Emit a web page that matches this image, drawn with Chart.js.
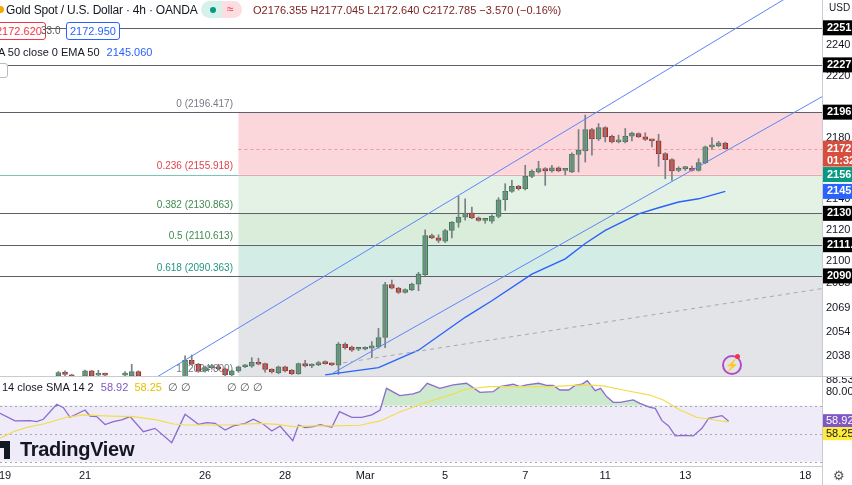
<!DOCTYPE html>
<html><head><meta charset="utf-8">
<script src="https://cdn.jsdelivr.net/npm/chart.js@4/dist/chart.umd.min.js"></script>
<style>
body{margin:0;background:#fff;width:852px;height:485px;overflow:hidden;position:relative;font-family:"Liberation Sans",Arial,sans-serif}
canvas{position:absolute;left:0}
.t{position:absolute;white-space:nowrap;font-size:11px;color:#131722;z-index:5}
</style></head><body>
<canvas id="main" width="852" height="376" style="top:0px"></canvas>
<canvas id="rsi" width="852" height="109" style="top:376px"></canvas>

<div class="t" style="left:-3px;top:6px;width:7px;height:7px;border-radius:4px;background:#f7a600"></div>
<div class="t" style="left:6px;top:3px;font-size:12px;letter-spacing:-0.2px">Gold Spot / U.S. Dollar · 4h · OANDA</div>
<div class="t" style="left:201px;top:1px;width:41px;height:17px;border-radius:9px;background:linear-gradient(90deg,#d5f1ea 50%,#fbdde2 50%)"></div>
<div class="t" style="left:210px;top:7px;width:6px;height:6px;border-radius:3px;background:#089981"></div>
<div class="t" style="left:227px;top:2px;color:#f23645;font-size:12px">≈</div>
<div class="t" style="left:253px;top:4px;color:#7a1e1e">O2176.355 H2177.045 L2172.640 C2172.785 −3.570 (−0.16%)</div>
<div class="t" style="left:-8px;top:22px;border:1px solid #f23645;border-radius:3px;background:#fff;color:#f23645;padding:2px 3px">2172.620</div>
<div class="t" style="left:41px;top:25px;color:#555;font-size:10px">33.0</div>
<div class="t" style="left:66px;top:22px;border:1px solid #2962ff;border-radius:3px;background:#fff;color:#2962ff;padding:2px 3px">2172.950</div>
<div class="t" style="left:-2px;top:46px">A 50 close 0 EMA 50 <span style="color:#2962ff;margin-left:4px">2145.060</span></div>
<div class="t" style="left:-6px;top:63px;width:12px;height:13px;border:1px solid #bbb;border-radius:3px;background:#fff"></div>
<div class="t" style="left:2px;top:381px">14 close SMA 14 2 <span style="color:#7e57c2;margin-left:4px">58.92</span> <span style="color:#e3c200;margin-left:3px">58.25</span> <span style="color:#555;margin-left:3px">∅ ∅</span><span style="color:#555;margin-left:36px">∅ ∅ ∅</span></div>
<div class="t" style="left:-2px;top:441px;width:12px;height:7px;background:#131722"></div>
<div class="t" style="left:4px;top:441px;width:6px;height:18px;background:#131722"></div>
<div class="t" style="left:20px;top:438px;font-size:20px;font-weight:bold;letter-spacing:-0.3px">TradingView</div>
<div class="t" style="left:722px;top:355px;width:16px;height:16px;border:2px solid #b04cc8;border-radius:10px;color:#b04cc8;font-size:11px;text-align:center;line-height:16px">⚡</div>
<div class="t" style="left:735px;top:354px;width:5px;height:5px;border-radius:3px;background:#f23645"></div>
<div class="t" style="left:829px;top:2px;font-size:10px">USD</div>
<div class="t" style="left:833px;top:468px;font-size:13px;color:#555">⚙</div>

<script>
// ---------- DATA ----------
const candleIdx=[8,9,10,12,13,14,15,18,19,20,27,28,29,30,31,32,33,34,35,36,37,38,39,40,41,42,43,44,45,46,47,48,49,50,
51,52,53,54,55,56,57,58,59,60,61,62,63,64,65,66,67,68,69,70,71,72,73,74,75,76,77,78,79,80,81,82,83,84,85,86,87,88,89,90,
91,92,93,94,95,96,97,98,99,100,101,102,103,104,105,106,107,108];
const opens=[2025.6,2028.2,2026.3,2025.6,2028.9,2026.2,2027.1,2026.2,2025.6,2028.4,2025.0,2035.8,2033.2,2028.9,2031.0,2031.0,2030.2,2026.3,2028.9,2031.6,2031.9,2034.3,2033.6,2029.9,2027.8,2031.5,2029.3,2027.1,2033.6,2032.1,2032.8,2034.3,2033.6,2032.6,
2046.2,2044.4,2042.9,2042.9,2043.6,2044.5,2050.5,2084.7,2082.5,2079.7,2081.3,2085.1,2091.2,2116.5,2115.0,2112.8,2119.8,2125.0,2128.4,2131.0,2128.0,2126.3,2125.8,2128.9,2139.7,2145.1,2148.4,2146.8,2154.8,2157.7,2159.8,2158.3,2160.3,2158.7,2157.7,2169.1,2171.3,2185.1,2179.1,2186.4,
2180.8,2177.2,2177.3,2180.8,2182.5,2180.4,2178.2,2177.8,2169.6,2165.7,2158.7,2159.8,2159.8,2158.7,2163.7,2173.9,2174.5,2176.4];
const highs=[2028.5,2029,2026.8,2029.5,2029.3,2029.3,2027.5,2028.4,2033.2,2029,2038.6,2039.2,2033.8,2032,2033.2,2033.2,2030.8,2029.5,2032,2033.2,2037.5,2037.1,2034,2030.3,2032,2032,2029.8,2034,2035.8,2033.5,2035,2035.4,2034,2047.3,
2047,2045,2043.5,2044.5,2047.9,2056.4,2086.2,2087.7,2083,2082,2085.8,2092.7,2120.2,2117.5,2117,2120.5,2125.5,2141.9,2140.3,2134.9,2128.5,2127,2130,2141,2150.1,2152.2,2149,2162.0,2159,2164.6,2160.5,2162,2161,2160,2170,2185.1,2194.5,2186,2189.0,2187,
2181.5,2181.5,2185.8,2183.5,2183,2183.0,2178.8,2182.1,2170.2,2166.3,2161,2161.3,2161.5,2166.3,2174.5,2179.9,2177.5,2177.0];
const lows=[2024,2025,2023.5,2024.5,2024.5,2025,2025,2025.5,2024.5,2024.5,2024,2032.5,2028,2028,2030,2029.5,2025.5,2025.5,2028,2031,2031.2,2032.8,2028,2027.5,2027,2028.3,2026.5,2026.7,2031.5,2031,2032.3,2033.2,2032.3,2026.7,
2043,2041.5,2042,2042.5,2037.5,2043.5,2044,2082,2079,2079.2,2080.8,2080.8,2090.5,2114.5,2112,2112,2115.0,2121.9,2126.5,2127.5,2125.8,2124.5,2124.5,2128,2132.8,2144.5,2146,2146,2154,2157,2149.0,2157.5,2157.8,2155.8,2157.2,2157.7,2164.1,2168.5,2178,2177.1,
2176.5,2176.5,2176.5,2177.8,2180,2178,2173.9,2161.3,2153.3,2152.2,2157.8,2158.7,2158.2,2158.2,2163,2172.2,2174,2172.6];
const closes=[2027.8,2026.7,2024.5,2028.9,2025.6,2026.9,2026.2,2026.9,2028.4,2025.6,2035.8,2033.2,2028.9,2031.0,2031.2,2030.2,2026.3,2028.9,2031.5,2031.8,2034.5,2033.2,2029.9,2028.2,2031.5,2028.9,2027.1,2033.6,2032.1,2032.8,2034.3,2033.6,2032.8,2046.2,
2044.0,2042.3,2043.0,2044.0,2045.1,2050.5,2084.7,2082.5,2079.7,2081.5,2085.1,2091.6,2116.5,2115.0,2113.3,2119.8,2125.0,2128.4,2131.0,2128.0,2126.3,2126.4,2128.9,2139.7,2145.1,2148.4,2146.8,2154.8,2158.1,2159.8,2158.3,2160.3,2158.3,2158.9,2169.1,2171.7,2185.1,2179.1,2186.4,2180.4,
2177.1,2177.3,2180.8,2182.8,2180.4,2178.7,2177.8,2169.6,2165.7,2158.3,2159.8,2159.9,2158.7,2163.7,2173.9,2174.5,2176.5,2172.8];
const emaIdx=[48,56,62,69,73,79,84,87,90,95,98,101,104,108];
const emaVals=[2026.3,2031.0,2042.3,2063.6,2074.3,2091.6,2101.4,2111.4,2119.8,2130.6,2134.5,2138.2,2140.3,2145.1];
const upperIdx=[22.8,125], upperVals=[2025.0,2290.7];
const lowerIdx=[48.7,125], lowerVals=[2026.3,2212.5];
const dashIdx=[50.7,122.5], dashVals=[2034.1,2082.2];
const fibLevels=['0','0.236','0.382','0.5','0.618','1'];
const fibPrices=[2196.417,2155.918,2130.863,2110.613,2090.363,2024.800];
const fibStartIdx=35;
const hLinePrices=[2251,2227,2196.4,2130.9,2110.6,2090.4];
const lastPrice=2172.785;
const yTickVals=[2240,2220,2180,2140,2120,2100,2085.5,2069.5,2054,2038.5];
const axisBoxVals=[2251,2227,2196.4,2172.8,2156,2145.1,2130.9,2110.6,2090.4];
const axisBoxText=['2251.','2227.','2196.','2172.','2156.','2145.','2130.','2111.','2090.'];
const rsiIdx=[-0.75,1.5,3.75,4.75,5.75,7.75,8.75,9.75,12,12.75,13.75,15,16.25,17.5,18.75,20.75,22.5,25,27,29,30.25,31.5,33,34.25,36,37.25,38.75,40,41.25,43.15,44,45,46.25,47.25,49,50.15,52,53.5,55,56.25,57.2,59.2,61.2,62.2,63.3,65.2,67.2,69.2,71.2,73.2,74.2,76.2,77.2,78.2,80,81.2,82.2,83.2,84.5,85.5,86.5,87.3,88.5,89.3,90.2,91.2,92.2,94.2,95.2,96.7,97.5,98.5,99.5,100.5,101.7,103.2,104.5,105.5,107.5,108.5];
const rsiVals=[64.6,59.1,59.3,58.6,60.3,71.0,68.6,61.7,66.9,62.6,62.2,56.5,58.6,59.8,62.2,51.4,53.8,43.6,63.8,56.7,57.9,57.4,52.6,55.5,57.4,60.3,56.7,51.9,55.5,45.0,56.2,54.3,55.0,56.5,54.5,65.7,61.7,61.7,63.4,66.9,82.4,77.2,78.4,80.0,86.0,82.4,84.8,86.0,79.5,80.0,83.6,85.3,83.6,84.8,86.0,84.5,84.5,81.2,81.2,84.5,85.3,87.9,80.7,82.4,76.5,72.4,72.4,74.1,71.7,68.8,68.1,59.3,55.5,48.4,48.8,48.4,53.8,61.0,62.9,58.92];
const smaIdx=[-0.75,1.25,3.25,5.75,9.25,11.75,15.75,19.25,22.75,25.25,27.25,33.25,38.25,40.75,43.25,46.25,49.25,53.25,56.25,59.25,62.75,66.75,69.2,72.7,76.7,81.7,86.7,89.7,92.7,96.7,98.7,101.2,103.7,105.7,108.5];
const smaVals=[46.7,51.4,54.5,56.9,61.7,63.4,62.6,62.2,59.8,56.9,56.2,56.2,57.4,56.7,55.0,55.5,55.5,56.0,59.1,65.7,71.7,77.6,81.9,83.6,83.6,83.6,84.8,84.1,81.2,77.6,74.1,66.9,61.7,60.3,58.25];
const xTickIdx=[0,12,30,42,54,66,78,90,102,120];
const xTickLabels=['19','21','26','28','Mar','5','7','11','13','18'];

// ---------- CHARTS ----------
const X_MIN=-0.75, X_MAX=122.5;
const GREEN='#6aa881', GREEN_B='#3b7a52', RED='#d8493d', RED_B='#9b2d25';
const up=candleIdx.map((_,i)=>closes[i]>=opens[i]);
const xy=(a,b)=>a.map((x,i)=>({x,y:b[i]}));
const fitY=s=>{s.width=30;s.paddingTop=0;s.paddingBottom=0;};
const fitX=s=>{s.height=19;s.paddingLeft=0;s.paddingRight=0;};

const fibPlugin={id:'fib',
 beforeDatasetsDraw(c){
  const ctx=c.ctx,x=c.scales.x,y=c.scales.y,a=c.chartArea;
  ctx.save();ctx.beginPath();ctx.rect(a.left,a.top,a.width,a.height);ctx.clip();
  const xs=x.getPixelForValue(fibStartIdx);
  const zc=['#fbd6da','#e3f2e4','#d9edda','#d3ece6','#e3e4e7'];
  for(let i=0;i<5;i++){
   const y1=y.getPixelForValue(fibPrices[i]);
   const y2=i<4?y.getPixelForValue(fibPrices[i+1]):a.bottom;
   ctx.fillStyle=zc[i];ctx.fillRect(xs,y1,a.right-xs,y2-y1);
  }
  const lc=['#888','#f0a3aa','#7fae84','#7fae84','#6cbfae'];
  for(let i=0;i<5;i++){const yy=Math.round(y.getPixelForValue(fibPrices[i]))+0.5;
   ctx.strokeStyle=lc[i];ctx.lineWidth=1;ctx.beginPath();ctx.moveTo(xs,yy);ctx.lineTo(a.right,yy);ctx.stroke();}
  ctx.strokeStyle='#5d606b';
  hLinePrices.forEach(p=>{const yy=Math.round(y.getPixelForValue(p))+0.5;ctx.beginPath();ctx.moveTo(a.left,yy);ctx.lineTo(a.right,yy);ctx.stroke();});
  ctx.strokeStyle='#7cc4b3';{const yy=Math.round(y.getPixelForValue(fibPrices[1]))+0.5;ctx.beginPath();ctx.moveTo(a.left,yy);ctx.lineTo(xs,yy);ctx.stroke();}
  ctx.setLineDash([3,3]);ctx.strokeStyle='#f19a9a';
  {const yy=Math.round(y.getPixelForValue(lastPrice))+0.5;ctx.beginPath();ctx.moveTo(xs,yy);ctx.lineTo(a.right,yy);ctx.stroke();}
  ctx.setLineDash([]);
  const tc=['#787b86','#e0434f','#3f8a4f','#3f8a4f','#219582','#787b86'];
  ctx.font='10px "Liberation Sans",Arial';ctx.textAlign='right';ctx.textBaseline='bottom';
  for(let i=0;i<6;i++){ctx.fillStyle=tc[i];ctx.fillText(fibLevels[i]+' ('+fibPrices[i].toFixed(3)+')',233,y.getPixelForValue(fibPrices[i])-3);}
  ctx.restore();
 },
 afterDraw(c){
  const ctx=c.ctx,y=c.scales.y,a=c.chartArea;
  ctx.save();
  ctx.strokeStyle='#c8cad0';ctx.beginPath();ctx.moveTo(a.right+0.5,0);ctx.lineTo(a.right+0.5,c.height);ctx.stroke();
  const bc=['#000','#000','#000','#d64f3e','#089981','#2962ff','#000','#000','#000'];
  ctx.font='bold 11px "Liberation Sans",Arial';ctx.textAlign='left';ctx.textBaseline='middle';
  axisBoxVals.forEach((v,i)=>{const yy=y.getPixelForValue(v);const h=i==3?26:15;const top=i==3?yy-8:yy-h/2;
   ctx.fillStyle=bc[i];ctx.fillRect(a.right+1,top,40,h);ctx.fillStyle='#fff';ctx.fillText(axisBoxText[i],a.right+5,yy);
   if(i==3)ctx.fillText('01:32',a.right+5,yy+12);});
  ctx.restore();
 }};

new Chart(document.getElementById('main'),{
 type:'bar',
 data:{datasets:[
  {type:'line',data:xy(dashIdx,dashVals),borderColor:'#a8a8ae',borderWidth:1,borderDash:[4,4],pointRadius:0},
  {type:'line',data:xy(upperIdx,upperVals),borderColor:'#5b86f5',borderWidth:1,pointRadius:0},
  {type:'line',data:xy(lowerIdx,lowerVals),borderColor:'#5b86f5',borderWidth:1,pointRadius:0},
  {type:'line',data:xy(emaIdx,emaVals),borderColor:'#2962ff',borderWidth:1.4,pointRadius:0},
  {data:candleIdx.map((x,i)=>({x,y:[lows[i],highs[i]]})),backgroundColor:'#7b7e86',barThickness:1,grouped:false},
  {data:candleIdx.map((x,i)=>({x,y:[opens[i],closes[i]]})),backgroundColor:up.map(u=>u?GREEN:RED),borderColor:up.map(u=>u?GREEN_B:RED_B),
   borderWidth:1,borderSkipped:false,barThickness:5,minBarLength:2,grouped:false}
 ]},
 options:{responsive:false,animation:false,devicePixelRatio:1,layout:{padding:0},
  plugins:{legend:{display:false},tooltip:{enabled:false}},
  scales:{
   x:{type:'linear',min:X_MIN,max:X_MAX,display:false,offset:false},
   y:{position:'right',min:2025.6,max:2269,afterFit:fitY,
      afterBuildTicks:s=>{s.ticks=yTickVals.map(v=>({value:v}))},
      ticks:{padding:4,color:'#131722',font:{size:11,family:'"Liberation Sans",Arial'},callback:v=>String(Math.floor(v))},
      grid:{display:false,drawTicks:false},border:{display:false}}
  }},
 plugins:[fibPlugin]
});

const rsiPlugin={id:'rsi',
 beforeDatasetsDraw(c){
  const ctx=c.ctx,y=c.scales.y,a=c.chartArea;
  ctx.save();
  ctx.strokeStyle='#c9cbd1';ctx.beginPath();ctx.moveTo(0,0.5);ctx.lineTo(c.width,0.5);ctx.stroke();
  const y70=y.getPixelForValue(70),y30=y.getPixelForValue(30),y50=y.getPixelForValue(50);
  ctx.fillStyle='#efebf8';ctx.fillRect(a.left,y70,a.width,y30-y70);
  ctx.setLineDash([2,3]);ctx.strokeStyle='#a7a9b0';
  [y70,y50,y30].forEach(v=>{ctx.beginPath();ctx.moveTo(a.left,Math.round(v)+0.5);ctx.lineTo(a.right,Math.round(v)+0.5);ctx.stroke();});
  ctx.restore();
 },
 afterDraw(c){
  const ctx=c.ctx,y=c.scales.y,a=c.chartArea;
  ctx.save();
  ctx.strokeStyle='#c8cad0';ctx.beginPath();ctx.moveTo(a.right+0.5,0);ctx.lineTo(a.right+0.5,c.height);ctx.stroke();
  ctx.font='11px "Liberation Sans",Arial';ctx.textBaseline='middle';
  ctx.fillStyle='#7e57c2';ctx.fillRect(a.right+1,y.getPixelForValue(58.92)-7,40,13);
  ctx.fillStyle='#fff';ctx.fillText('58.92',a.right+4,y.getPixelForValue(58.92));
  ctx.fillStyle='#ffeb3b';ctx.fillRect(a.right+1,y.getPixelForValue(58.92)+6,40,13);
  ctx.fillStyle='#131722';ctx.fillText('58.25',a.right+4,y.getPixelForValue(58.92)+13);
  ctx.restore();
 }};

new Chart(document.getElementById('rsi'),{
 type:'line',
 data:{datasets:[
  {data:xy(smaIdx,smaVals),borderColor:'#f2dd4a',borderWidth:1.2,pointRadius:0},
  {data:xy(rsiIdx,rsiVals),borderColor:'#8b6ccf',borderWidth:1.3,pointRadius:0,
   fill:{target:{value:70},above:'rgba(76,175,80,0.28)',below:'rgba(0,0,0,0)'}}
 ]},
 options:{responsive:false,animation:false,devicePixelRatio:1,layout:{padding:0},
  plugins:{legend:{display:false},tooltip:{enabled:false}},
  scales:{
   x:{type:'linear',min:X_MIN,max:X_MAX,afterFit:fitX,
      afterBuildTicks:s=>{s.ticks=xTickIdx.map(v=>({value:v}))},
      ticks:{autoSkip:false,maxRotation:0,padding:3,color:'#131722',font:{size:11,family:'"Liberation Sans",Arial'},
             callback:v=>xTickLabels[xTickIdx.indexOf(v)]},
      grid:{display:false,drawTicks:false},border:{display:true,color:'#c9cbd1'}},
   y:{position:'right',min:26.9,max:91.2,afterFit:fitY,
      afterBuildTicks:s=>{s.ticks=[88.53,80,47.96].map(v=>({value:v}))},
      ticks:{padding:4,color:'#131722',font:{size:11,family:'"Liberation Sans",Arial'},callback:v=>v.toFixed(2)},
      grid:{display:false,drawTicks:false},border:{display:false}}
  }},
 plugins:[rsiPlugin]
});
</script></body></html>
